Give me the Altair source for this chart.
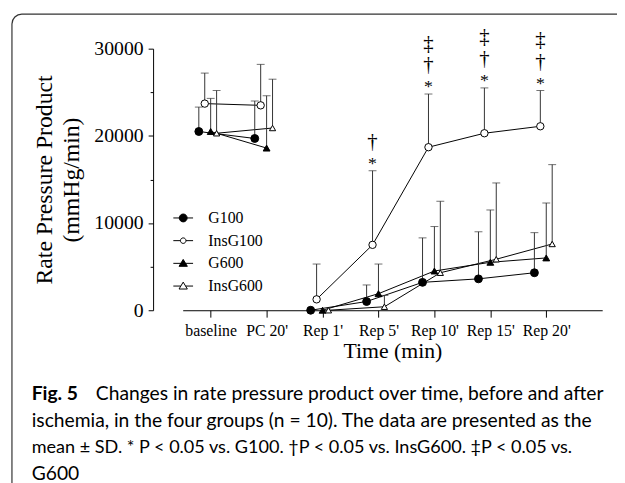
import json
import altair as alt
import pandas as pd

categories = ["baseline", "PC 20'", "Rep 1'", "Rep 5'", "Rep 10'", "Rep 15'", "Rep 20'"]
phase = ["pre", "pre", "post", "post", "post", "post", "post"]
series_names = ["G100", "InsG100", "G600", "InsG600"]

g100_mean = [20500, 19700, 0, 1000, 3200, 3600, 4300]
g100_sd = [2800, 4300, 0, 1900, 5100, 5400, 4600]
insg100_mean = [23700, 23500, 1250, 7500, 18700, 20300, 21100]
insg100_sd = [3500, 4700, 4050, 8500, 6100, 5200, 4100]
g600_mean = [20500, 18600, 0, 1900, 4500, 5500, 6000]
g600_sd = [3800, 6000, 0, 3400, 5100, 6000, 6300]
insg600_mean = [20300, 20900, 0, 400, 4300, 5850, 7600]
insg600_sd = [4900, 5600, 0, 1300, 8200, 8750, 9100]

# horizontal dodge of each group, in category units
series_dodge = [-0.212, -0.106, 0.0, 0.106]

# significance marks above InsG100 (category index, symbols from bottom to top)
sig_index = [3, 4, 5, 6]
sig_symbols = [["*", "†"], ["*", "†", "‡"], ["*", "†", "‡"], ["*", "†", "‡"]]

caption_lines = [
    "Changes in rate pressure product over time, before and after",
    "ischemia, in the four groups (n = 10). The data are presented as the",
    "mean ± SD. * P < 0.05 vs. G100. †P < 0.05 vs. InsG600. ‡P < 0.05 vs.",
    "G600",
]

means = [g100_mean, insg100_mean, g600_mean, insg600_mean]
sds = [g100_sd, insg100_sd, g600_sd, insg600_sd]
rows = []
for s, name in enumerate(series_names):
    for i, cat in enumerate(categories):
        rows.append({
            "series": name, "idx": i, "cat": cat, "seg": phase[i],
            "xpos": i + series_dodge[s], "mean": means[s][i],
            "sd": sds[s][i], "top": means[s][i] + sds[s][i],
        })
df = pd.DataFrame(rows)

sig_rows = []
for k, i in enumerate(sig_index):
    for lvl, sym in enumerate(sig_symbols[k]):
        sig_rows.append({"xpos": i + series_dodge[1], "top": insg100_mean[i] + insg100_sd[i],
                         "sym": sym, "lvl": lvl})
sig = pd.DataFrame(sig_rows)

SERIF = "Liberation Serif"
xscale = alt.Scale(domain=[-0.5, 7], nice=False, zero=False)
yscale = alt.Scale(domain=[0, 30000], nice=False, zero=True)

x_axis = alt.Axis(
    values=list(range(7)), labelExpr=json.dumps(categories) + "[datum.value]",
    title="Time (min)", grid=False, tickSize=7, labelPadding=6, labelFlush=False,
    labelOverlap=False, labelFont=SERIF, labelFontSize=16, titleFont=SERIF,
    titleFontSize=22, titleFontWeight="normal", titlePadding=2,
    domainColor="black", tickColor="black", labelColor="black", titleColor="black",
)
y_axis = alt.Axis(
    values=[0, 5000, 10000, 15000, 20000, 25000, 30000],
    labelExpr="datum.value % 10000 === 0 ? '' + datum.value : ''",
    title=["Rate Pressure Product", "(mmHg/min)"], grid=False, offset=30,
    tickSize={"condition": {"test": "datum.value % 10000 === 0", "value": 5}, "value": 3},
    labelPadding=5, labelFont=SERIF, labelFontSize=20, titleFont=SERIF,
    titleFontSize=24, titleFontWeight="normal", titlePadding=11, titleLineHeight=27,
    domainColor="black", tickColor="black", labelColor="black", titleColor="black",
)

X = alt.X("xpos:Q", scale=xscale, axis=x_axis)
base = alt.Chart(df)

lines = base.mark_line(color="black", strokeWidth=1).encode(
    x=X, y=alt.Y("mean:Q", scale=yscale, axis=y_axis),
    detail=["series:N", "seg:N"], order=alt.Order("idx:Q"),
)
bars = base.transform_filter("datum.sd > 0").mark_rule(color="#333", strokeWidth=1).encode(
    x=X, y=alt.Y("mean:Q"), y2="top:Q")
caps = base.transform_filter("datum.sd > 0").mark_tick(
    orient="horizontal", size=8, thickness=1, color="#333").encode(x=X, y=alt.Y("top:Q"))

points = base.mark_point(opacity=1, stroke="black", strokeWidth=1).encode(
    x=X, y=alt.Y("mean:Q"),
    shape=alt.Shape("series:N", scale=alt.Scale(domain=series_names,
                    range=["circle", "circle", "triangle-up", "triangle-up"]), legend=None),
    fill=alt.Fill("series:N", scale=alt.Scale(domain=series_names,
                  range=["black", "white", "black", "white"]), legend=None),
    size=alt.Size("series:N", scale=alt.Scale(domain=series_names, range=[64, 40, 64, 64]),
                  legend=None),
)

legend_paths = [
    "M-1,0L1,0M-0.4,0A0.4,0.4,0,1,1,0.4,0A0.4,0.4,0,1,1,-0.4,0Z",
    "M-1,0L-0.28,0M0.28,0L1,0M-0.28,0A0.28,0.28,0,1,1,0.28,0A0.28,0.28,0,1,1,-0.28,0Z",
    "M-1,0L1,0M0,-0.4L0.42,0.3L-0.42,0.3Z",
    "M-1,0L-0.25,0M0.25,0L1,0M0,-0.4L0.42,0.3L-0.42,0.3Z",
]
LEG = alt.Legend(orient="none", legendX=-10, legendY=161, title=None,
                 labelFont=SERIF, labelFontSize=16, labelColor="black",
                 symbolSize=400, symbolStrokeWidth=1, labelOffset=15,
                 rowPadding=4, padding=0)
legend_layer = base.transform_filter("false").mark_point(
    opacity=1, strokeWidth=1).encode(
    shape=alt.Shape("series:N", scale=alt.Scale(domain=series_names, range=legend_paths),
                    legend=LEG),
    fill=alt.Fill("series:N", scale=alt.Scale(domain=series_names,
                  range=["black", "white", "black", "white"]), legend=LEG),
    stroke=alt.Stroke("series:N", scale=alt.Scale(domain=series_names,
                      range=["black", "black", "black", "black"]), legend=LEG),
)

sig_base = alt.Chart(sig)
sig_layers = []
for lvl, dy, fs in zip([0, 1, 2], [-7, -29, -51], [18, 21, 21]):
    sig_layers.append(sig_base.transform_filter(f"datum.lvl == {lvl}").mark_text(
        font=SERIF, fontSize=fs, baseline="middle", dy=dy, color="black").encode(
        x=X, y=alt.Y("top:Q"), text="sym:N"))

one = alt.Chart(pd.DataFrame({"a": [0]}))
border = one.mark_rect(fillOpacity=0, stroke="#333", strokeWidth=1.2, cornerRadius=10).encode(
    x=alt.value(-173), x2=alt.value(470), y=alt.value(-35), y2=alt.value(480))

CAP_FONT = "Lato"
CAP_SIZE = 19.5
cap_x = -153
cap_y = [356, 383, 410, 437]
cap_size = [CAP_SIZE, CAP_SIZE, 18.3, CAP_SIZE]
cap_layers = [one.mark_text(align="left", baseline="alphabetic", font=CAP_FONT, fontSize=CAP_SIZE,
                            fontWeight="bold", color="black").encode(
    x=alt.value(cap_x), y=alt.value(cap_y[0]), text=alt.value("Fig. 5"))]
cap_layers.append(one.mark_text(align="left", baseline="alphabetic", font=CAP_FONT,
                                fontSize=CAP_SIZE, color="black").encode(
    x=alt.value(cap_x + 65), y=alt.value(cap_y[0]), text=alt.value(caption_lines[0])))
for j in range(1, 4):
    cap_layers.append(one.mark_text(align="left", baseline="alphabetic", font=CAP_FONT,
                                    fontSize=cap_size[j], color="black").encode(
        x=alt.value(cap_x), y=alt.value(cap_y[j]), text=alt.value(caption_lines[j])))

chart = alt.layer(border, lines, bars, caps, points, legend_layer, *sig_layers, *cap_layers
).resolve_scale(shape="independent", fill="independent", size="independent",
                stroke="independent").properties(
    width=425, height=265,
    autosize=alt.AutoSizeParams(type="none"),
    padding={"left": 177, "top": 38, "right": 15, "bottom": 186},
    background="white",
).configure_view(stroke="transparent")

chart.save("out.html", embed_options={"renderer": "svg", "actions": False})
